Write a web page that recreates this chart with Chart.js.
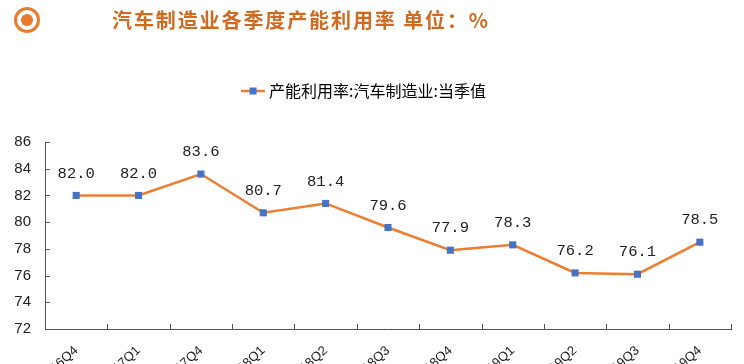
<!DOCTYPE html>
<html>
<head>
<meta charset="utf-8">
<script src="https://cdn.jsdelivr.net/npm/chart.js@4.4.1/dist/chart.umd.min.js"></script>
<style>
  html, body { margin: 0; padding: 0; background: #fff; overflow: hidden; width: 744px; height: 364px; }
  #wrap { position: absolute; left: 0; top: 0; width: 744px; height: 400px; }
  #title { position: absolute; left: 0; top: 0; width: 744px; height: 44px; z-index: 2; }
  #icon { position: absolute; left: 14px; top: 7px; width: 20px; height: 20px; border: 3px solid #e87b2c; border-radius: 50%; }
  #icon::after { content: ''; position: absolute; left: 4px; top: 4px; width: 12px; height: 12px; border-radius: 50%; background: #e87b2c; }
  #title span { position: absolute; left: 112px; top: 5px; font: bold 20px "Noto Sans CJK SC"; color: #cf6a1f; letter-spacing: 1.9px; }
</style>
</head>
<body>
<div id="title"><div id="icon"></div><span>汽车制造业各季度产能利用率 单位：%</span></div>
<div id="wrap"><canvas id="chart" width="744" height="400"></canvas></div>
<script>
const categories = ['2016Q4', '2017Q1', '2017Q4', '2018Q1', '2018Q2', '2018Q3', '2018Q4', '2019Q1', '2019Q2', '2019Q3', '2019Q4'];
const utilization = [82.0, 82.0, 83.6, 80.7, 81.4, 79.6, 77.9, 78.3, 76.2, 76.1, 78.5];
const yTicks = [72, 74, 76, 78, 80, 82, 84, 86];
const seriesName = '产能利用率:汽车制造业:当季值';

// legend symbol: orange line with blue square
const legendIcon = document.createElement('canvas');
legendIcon.width = 24;
legendIcon.height = 10;
(function () {
  const c = legendIcon.getContext('2d');
  c.strokeStyle = '#ed7d31';
  c.lineWidth = 2.5;
  c.beginPath();
  c.moveTo(0, 5);
  c.lineTo(24, 5);
  c.stroke();
  c.fillStyle = '#4472c4';
  c.fillRect(8.5, 1.5, 7, 7);
})();

// extra gap under the legend
const legendGap = {
  id: 'legendGap',
  afterInit(chart) {
    const fit = chart.legend.fit;
    chart.legend.fit = function () {
      fit.call(this);
      this.height += 33;
    };
  }
};

// value labels above points + inward tick marks
const labelsPlugin = {
  id: 'valueLabels',
  afterDatasetsDraw(chart) {
    const ctx = chart.ctx;
    const meta = chart.getDatasetMeta(0);
    ctx.save();
    ctx.font = '15.5px "Liberation Mono"';
    ctx.fillStyle = '#222';
    ctx.textAlign = 'center';
    ctx.textBaseline = 'middle';
    meta.data.forEach((pt, i) => {
      ctx.fillText(utilization[i].toFixed(1), pt.x, pt.y - 22);
    });
    ctx.restore();
  },
  afterDraw(chart) {
    const ctx = chart.ctx;
    const x = chart.scales.x, y = chart.scales.y;
    const area = chart.chartArea;
    ctx.save();
    ctx.strokeStyle = '#555';
    ctx.lineWidth = 1;
    ctx.beginPath();
    yTicks.forEach(v => {
      const py = Math.round(y.getPixelForValue(v)) + 0.5;
      ctx.moveTo(area.left, py);
      ctx.lineTo(area.left + 5, py);
    });
    for (let i = 1; i <= categories.length; i++) {
      const px = Math.round(x.getPixelForValue(i - 0.5)) + 0.5;
      ctx.moveTo(px, area.bottom);
      ctx.lineTo(px, area.bottom - 5);
    }
    ctx.stroke();
    ctx.restore();
  }
};

const chart = new Chart(document.getElementById('chart'), {
  type: 'line',
  data: {
    labels: categories,
    datasets: [{
      label: seriesName,
      data: utilization,
      borderColor: '#ed7d31',
      backgroundColor: '#4472c4',
      borderWidth: 2.5,
      pointStyle: 'rect',
      pointRadius: 5,
      pointBorderWidth: 0,
      pointBackgroundColor: '#4472c4',
      tension: 0
    }]
  },
  options: {
    responsive: false,
    animation: false,
    layout: { padding: { top: 55, right: 13, left: 0, bottom: 0 } },
    plugins: {
      legend: {
        position: 'top',
        labels: {
          font: { size: 16, family: '"Noto Sans CJK SC"' },
          color: '#333',
          usePointStyle: true,
          padding: 28,
          generateLabels(chart) {
            return [{
              text: seriesName,
              pointStyle: legendIcon,
              fillStyle: '#ed7d31',
              strokeStyle: '#ed7d31',
              lineWidth: 0,
              datasetIndex: 0
            }];
          }
        }
      },
      tooltip: { enabled: false }
    },
    scales: {
      x: {
        offset: true,
        grid: { display: false, drawTicks: false },
        border: { color: '#555', width: 1 },
        ticks: {
          minRotation: 42,
          maxRotation: 42,
          autoSkip: false,
          padding: 14,
          color: '#222',
          font: { size: 13, family: '"Liberation Sans"' }
        },
        afterFit(scale) { scale.height = 71; }
      },
      y: {
        min: 72,
        max: 86,
        grid: { display: false, drawTicks: false },
        border: { color: '#555', width: 1 },
        afterBuildTicks(scale) { scale.ticks = yTicks.map(v => ({ value: v })); },
        ticks: {
          padding: 14,
          color: '#222',
          font: { size: 15, family: '"Liberation Sans"' }
        },
        afterFit(scale) { scale.width = 45; }
      }
    }
  },
  plugins: [legendGap, labelsPlugin]
});
</script>
</body>
</html>
